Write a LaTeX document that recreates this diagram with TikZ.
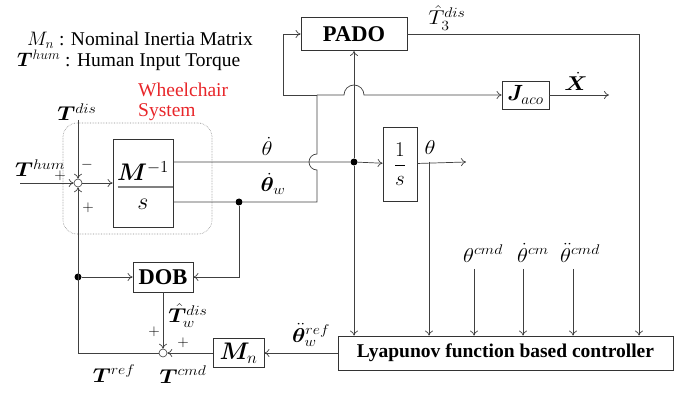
\documentclass[tikz,border=0pt]{standalone}
\usepackage{fix-cm}
\usepackage{amsmath}
\usepackage{bm}
\usepackage{graphicx}
\usepackage[no-math]{fontspec}
\setmainfont{Liberation Serif}
\usetikzlibrary{arrows.meta}
\definecolor{wred}{RGB}{232,38,42}
\newcommand{\wide}[1]{\scalebox{1.13}[1]{#1}}
\begin{document}
\begin{tikzpicture}[x=1pt,y=-1pt,
  ln/.style={draw=black!75, line width=0.7pt},
  arr/.style={ln, -{To[length=5pt,width=8pt]}},
  blk/.style={draw=black!80, line width=0.8pt, fill=white, inner sep=0pt},
  lbl/.style={inner sep=0pt, anchor=base, font=\fontsize{20}{24}\selectfont},
  sgn/.style={inner sep=0pt, font=\fontsize{15}{18}\selectfont},
  txt/.style={inner sep=0pt, font=\fontsize{19.5}{23}\selectfont},
  btxt/.style={font=\fontsize{22.5}{26}\selectfont\bfseries},
  sumj/.style={circle, draw=black!75, fill=white, line width=0.6pt, minimum size=8pt, inner sep=0pt},
  dotn/.style={circle, fill=black, minimum size=7pt, inner sep=0pt},
]
\useasboundingbox (0,0) rectangle (689,393);
% wheelchair system frame
\node[draw=black!45, densely dotted, line width=0.6pt, rounded corners=14pt, minimum width=149pt, minimum height=111pt] (wcs) at (137.5,178.5) {};
\node[txt, text=wred, anchor=base west] (wt1) at (138,97) {Wheelchair};
\node[txt, text=wred, anchor=base west] (wt2) at (138,117) {System};
% legend
\node[txt, anchor=base west] (leg1) at (27,46) {$M_n$ : Nominal Inertia Matrix};
\node[txt, anchor=base west] (leg2) at (17,67) {$\bm{T}^{hum}$ : Human Input Torque};
% blocks
\node[blk, btxt, minimum width=106pt, minimum height=33pt] (pado) at (354,34) {PADO};
\node[blk, minimum width=47pt, minimum height=28pt, font=\fontsize{22}{26}\selectfont] (jaco) at (525.5,95) {$\bm{J}_{aco}$};
\node[blk, minimum width=34pt, minimum height=74pt, font=\fontsize{21}{25}\selectfont] (integ) at (400,164) {$\dfrac{1}{s}$};
\node[blk, minimum width=60pt, minimum height=88pt] (plant) at (143,183) {};
\node[inner sep=0pt, font=\fontsize{24}{28}\selectfont] (pnum) at (143,171) {$\bm{M}^{-1}$};
\node[inner sep=0pt, font=\fontsize{24}{28}\selectfont] (pden) at (143,204) {$s$};
\draw[draw=black!50, line width=1.6pt] (plant.west |- 0,187) ++(5,0) coordinate (fb1) -- (plant.east |- 0,187) ++(-5,0) coordinate (fb2);
\node[blk, btxt, minimum width=60pt, minimum height=30pt] (dob) at (163,277) {DOB};
\node[blk, minimum width=51pt, minimum height=29pt, font=\fontsize{24}{28}\selectfont] (mn) at (238.5,353) {$\bm{M}_n$};
\node[blk, minimum width=335pt, minimum height=34pt, font=\fontsize{19.5}{23}\selectfont\bfseries] (lyap) at (505.5,353) {Lyapunov function based controller};
% junctions
\node[sumj] (sum1) at (78,183) {};
\node[sumj] (sum2) at (163,353) {};
\node[dotn] (dot1) at (354,162) {};
\node[dotn] (dot2) at (239,202) {};
\node[dotn] (dot3) at (78,277) {};
% coordinates
\coordinate (thumin) at (20,183);
\coordinate (tdisin) at (78,120);
\coordinate (thout) at (466,162);
\coordinate (thtap) at (429,162);
\coordinate (padocorner) at (639,34);
\coordinate (wA) at (317,202);
\coordinate (wB) at (317,95);
\coordinate (wC) at (283,95);
\coordinate (wD) at (283,34);
\coordinate (xout) at (609,95);
\coordinate (c1) at (474,269);
\coordinate (c2) at (523,269);
\coordinate (c3) at (573,269);
% connectors
\draw[arr] (thumin) -- (sum1);
\draw[arr] (tdisin) -- (sum1);
\draw[arr] (sum1) -- (plant);
\draw[arr] (plant.east |- dot1) -- (dot1) -- (integ);
\draw[arr] (dot1) -- (pado);
\draw[arr] (dot1) -- (dot1 |- lyap.north);
\draw[arr] (integ) -- (thout);
\draw[arr] (thtap) -- (thtap |- lyap.north);
\draw[arr] (pado) -- (padocorner) -- (padocorner |- lyap.north);
\draw[ln] (plant.east |- dot2) -- (dot2) -- (wA) -- (317,170) arc[start angle=270, end angle=90, radius=8pt] -- (wB);
\draw[arr] (wB) -- (wC) -- (wD) -- (pado);
\draw[arr] (wB) -- (344,95) arc[start angle=180, end angle=0, radius=10pt] -- (jaco);
\draw[arr] (jaco) -- (xout);
\draw[arr] (dot2) -- (dot2 |- dob) -- (dob);
\draw[arr] (dot3) -- (dob);
\draw[arr] (dob) -- (sum2);
\draw[arr] (mn) -- (sum2);
\draw[arr] (lyap) -- (mn);
\draw[arr] (sum2) -- (sum2 -| dot3) -- (sum1);
\draw[arr] (c1) -- (c1 |- lyap.north);
\draw[arr] (c2) -- (c2 |- lyap.north);
\draw[arr] (c3) -- (c3 |- lyap.north);
% labels
\node[lbl] (lTdis) at (77,121) {\wide{$\bm{T}^{dis}$}};
\node[lbl] (lThum) at (40,177) {\wide{$\bm{T}^{hum}$}};
\node[sgn] (pl1) at (60,176) {$+$};
\node[sgn] (mi1) at (87,165) {$-$};
\node[sgn] (pl2) at (88,208) {$+$};
\node[lbl] (lthd) at (267,156) {\wide{$\dot{\theta}$}};
\node[lbl] (lthdw) at (273,192) {\wide{$\dot{\bm{\theta}}_w$}};
\node[lbl] (lT3) at (447,25) {\wide{$\hat{T}_3^{dis}$}};
\node[lbl] (lX) at (576,91) {\wide{$\dot{\bm{X}}$}};
\node[lbl] (lth) at (430,155) {\wide{$\theta$}};
\node[lbl] (lc1) at (483,262) {\wide{$\theta^{cmd}$}};
\node[lbl] (lc2) at (533,262) {\wide{$\dot{\theta}^{cm}$}};
\node[lbl] (lc3) at (580,262) {\wide{$\ddot{\theta}^{cmd}$}};
\node[lbl] (lTw) at (188,323) {\wide{$\hat{\bm{T}}_w^{dis}$}};
\node[sgn] (pl3) at (154,332) {$+$};
\node[sgn] (pl4) at (183,343) {$+$};
\node[lbl] (lthref) at (311,342) {\wide{$\ddot{\bm{\theta}}_w^{ref}$}};
\node[lbl] (lTref) at (114,382) {\wide{$\bm{T}^{ref}$}};
\node[lbl] (lTcmd) at (183,383) {\wide{$\bm{T}^{cmd}$}};
\end{tikzpicture}
\end{document}
